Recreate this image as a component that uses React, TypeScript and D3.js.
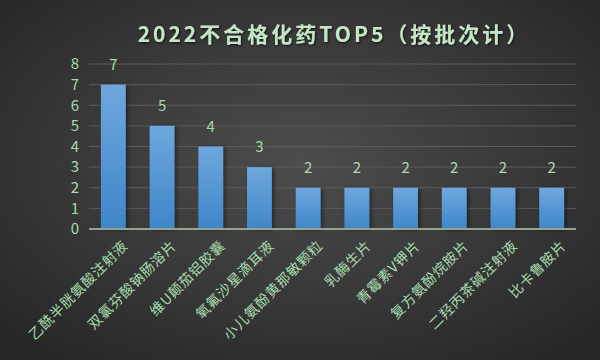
import * as d3 from "d3";

const drugs = [
  "乙酰半胱氨酸注射液",
  "双氯芬酸钠肠溶片",
  "维U颠茄铝胶囊",
  "氧氟沙星滴耳液",
  "小儿氨酚黄那敏颗粒",
  "乳酶生片",
  "青霉素V钾片",
  "复方氨酚烷胺片",
  "二羟丙茶碱注射液",
  "比卡鲁胺片",
];
const batches = [7, 5, 4, 3, 2, 2, 2, 2, 2, 2];
const yTicks = [0, 1, 2, 3, 4, 5, 6, 7, 8];

const W = 600;
const H = 360;
const margin = { top: 64, right: 24, bottom: 131, left: 89 };
const green = "#a6dcae";
const font = "'Noto Sans CJK SC', 'Noto Sans', sans-serif";

const App = () => {
  const x = d3
    .scaleBand()
    .domain(drugs)
    .range([margin.left, W - margin.right])
    .paddingInner(0.49)
    .paddingOuter(0.245);
  const y = d3
    .scaleLinear()
    .domain([0, 8])
    .range([H - margin.bottom, margin.top]);

  return (
    <svg width={W} height={H} style={{ position: "absolute", left: 0, top: 0 }}>
      <defs>
        <radialGradient id="bg" cx="50%" cy="45%" r="70%">
          <stop offset="0%" stopColor="#4d4d4d" />
          <stop offset="100%" stopColor="#262626" />
        </radialGradient>
        <linearGradient id="bar" x1="0" y1="0" x2="0" y2="1">
          <stop offset="0%" stopColor="#6ea7dd" />
          <stop offset="100%" stopColor="#3f86c9" />
        </linearGradient>
        <filter id="shadow" x="-30%" y="-10%" width="160%" height="120%">
          <feDropShadow dx="2" dy="1" stdDeviation="2" floodColor="#000" floodOpacity="0.45" />
        </filter>
        <filter id="tshadow">
          <feDropShadow dx="1" dy="1" stdDeviation="0.8" floodColor="#000" floodOpacity="0.7" />
        </filter>
      </defs>
      <rect width={W} height={H} fill="url(#bg)" />

      <text
        x={334}
        y={42}
        textAnchor="middle"
        fontFamily={font}
        fontSize={21}
        fontWeight="bold"
        letterSpacing={3}
        fill="#c4e6c6"
        filter="url(#tshadow)"
      >
        2022不合格化药TOP5（按批次计）
      </text>

      {yTicks.map((t) => (
        <g key={t}>
          {t > 0 && (
            <line
              x1={margin.left}
              x2={W - margin.right}
              y1={y(t)}
              y2={y(t)}
              stroke="#5c5c5c"
              strokeWidth={1}
            />
          )}
          <text
            x={79}
            y={y(t)}
            dy="0.35em"
            textAnchor="end"
            fontFamily={font}
            fontSize={15}
            fill={green}
          >
            {t}
          </text>
        </g>
      ))}

      {drugs.map((d, i) => {
        const bx = x(d)!;
        const cx = bx + x.bandwidth() / 2;
        return (
          <g key={d}>
            <rect
              x={bx}
              y={y(batches[i])}
              width={x.bandwidth()}
              height={y(0) - y(batches[i])}
              fill="url(#bar)"
              filter="url(#shadow)"
            />
            <text
              x={cx}
              y={y(batches[i]) - 15}
              textAnchor="middle"
              fontFamily={font}
              fontSize={15}
              fill={green}
            >
              {batches[i]}
            </text>
            <text
              transform={`translate(${cx + 12},${y(0) + 14}) rotate(-45)`}
              textAnchor="end"
              dy="0.35em"
              fontFamily={font}
              fontSize={14}
              letterSpacing={0.8}
              fill={green}
            >
              {d}
            </text>
          </g>
        );
      })}

      <line
        x1={margin.left}
        x2={W - margin.right}
        y1={y(0)}
        y2={y(0)}
        stroke="#8fa58f"
        strokeWidth={2}
      />
    </svg>
  );
};

export default App;
